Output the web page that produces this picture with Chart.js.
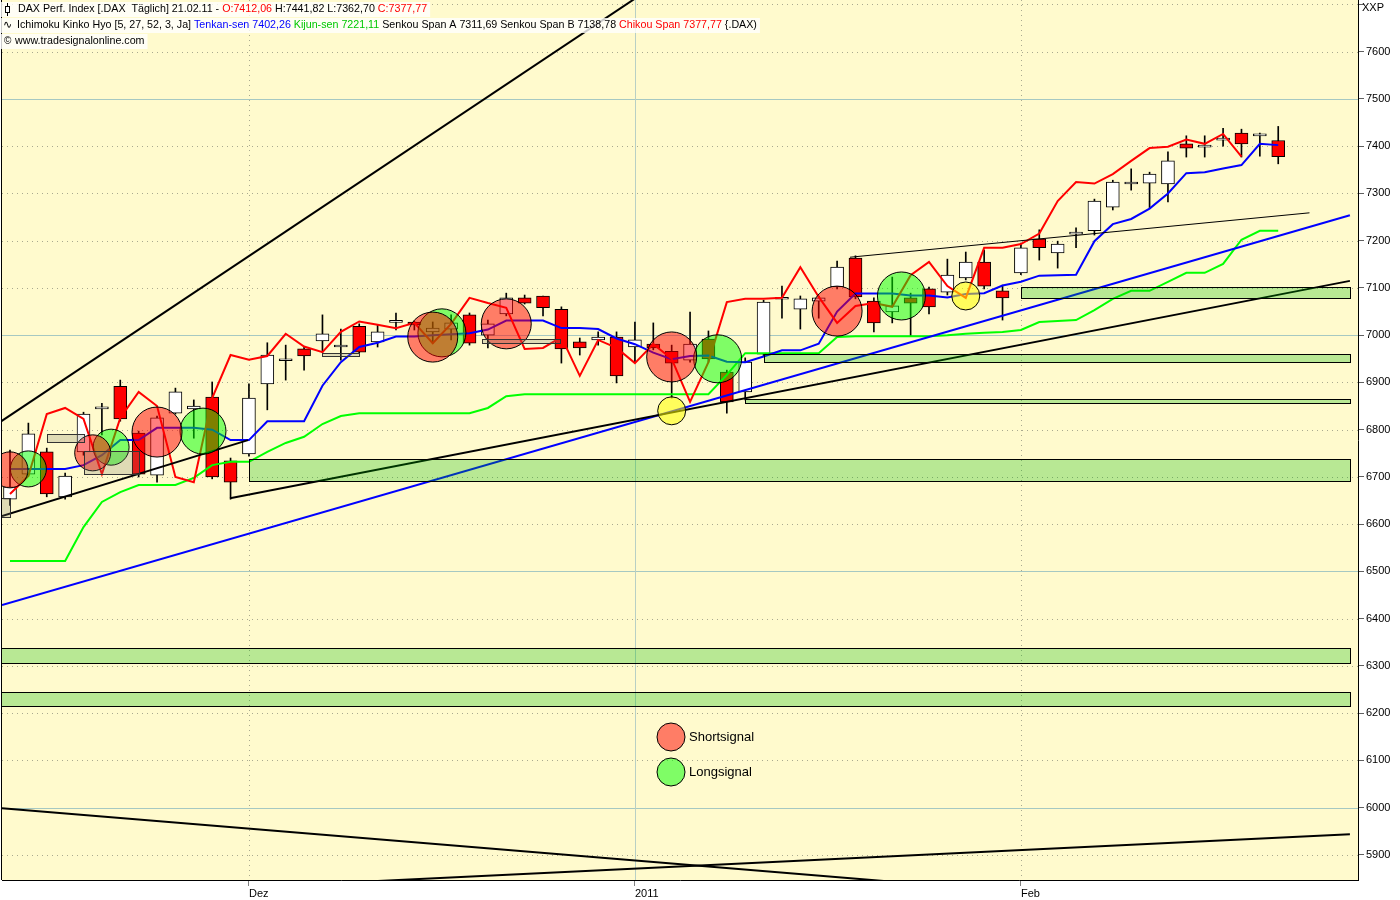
<!DOCTYPE html>
<html>
<head>
<meta charset="utf-8">
<title>DAX Perf. Index - Ichimoku</title>
<script src="https://cdn.jsdelivr.net/npm/chart.js@4.4.0/dist/chart.umd.min.js"></script>
<style>
  html, body { margin: 0; padding: 0; background: #fff; }
  canvas { display: block; }
</style>
</head>
<body>
<canvas id="chart" width="1400" height="900"></canvas>
<script>
// trading days, 12.11.2010 - 21.02.2011
const days = [
  '12.11.', '15.11.', '16.11.', '17.11.', '18.11.', '19.11.', '22.11.', '23.11.', '24.11.', '25.11.', '26.11.', '29.11.', '30.11.',
  '01.12.', '02.12.', '03.12.', '06.12.', '07.12.', '08.12.', '09.12.', '10.12.', '13.12.', '14.12.', '15.12.', '16.12.', '17.12.',
  '20.12.', '21.12.', '22.12.', '23.12.', '27.12.', '28.12.', '29.12.', '30.12.',
  '03.01.', '04.01.', '05.01.', '06.01.', '07.01.', '10.01.', '11.01.', '12.01.', '13.01.', '14.01.', '17.01.', '18.01.', '19.01.',
  '20.01.', '21.01.', '24.01.', '25.01.', '26.01.', '27.01.', '28.01.', '31.01.',
  '01.02.', '02.02.', '03.02.', '04.02.', '07.02.', '08.02.', '09.02.', '10.02.', '11.02.', '14.02.', '15.02.', '16.02.', '17.02.',
  '18.02.', '21.02.'
];
const monthIdx = [13, 34, 55];
const monthLabels = ['Dez', '2011', 'Feb'];

const open = [
  6653, 6706, 6753, 6658, 6753, 6844, 6892, 6793, 6704, 6835,
  6844, 6869, 6734, 6749, 6897, 6946, 6971, 6988, 6975, 7019,
  6986, 7027, 7028, 7007, 7013, 7043, 7000, 7045, 7079, 7083,
  7055, 6986, 6990, 6996, 6975, 6981, 6966, 6947, 6992, 6922,
  6880, 6960, 7076, 7055, 7072, 7102, 7163, 7072, 7049, 7079,
  7098, 7091, 7121, 7155, 7094, 7132, 7204, 7174, 7214, 7221,
  7271, 7320, 7322, 7320, 7405, 7398, 7413, 7428, 7422, 7412.06
];
const high = [
  6757, 6814, 6761, 6708, 6837, 6856, 6905, 6797, 6829, 6888,
  6863, 6901, 6740, 6897, 6984, 6979, 6975, 7043, 7013, 7024,
  7022, 7047, 7030, 7028, 7043, 7047, 7032, 7089, 7085, 7083,
  7060, 6994, 7007, 7007, 7028, 7026, 6979, 7049, 7009, 6926,
  6952, 7074, 7104, 7083, 7083, 7157, 7168, 7079, 7123, 7089,
  7102, 7161, 7176, 7180, 7106, 7195, 7223, 7199, 7227, 7288,
  7328, 7352, 7345, 7388, 7422, 7422, 7438, 7436, 7428, 7441.82
];
const low = [
  6640, 6702, 6658, 6653, 6746, 6789, 6818, 6700, 6689, 6833,
  6782, 6696, 6653, 6744, 6842, 6905, 6926, 6964, 6947, 6962,
  6975, 7011, 7011, 6983, 6990, 6979, 6973, 7041, 7066, 7041,
  6941, 6958, 6979, 6899, 6943, 6969, 6867, 6943, 6943, 6835,
  6863, 6956, 7036, 7013, 7036, 7098, 7077, 7007, 7026, 6998,
  7045, 7085, 7117, 7098, 7032, 7128, 7159, 7142, 7185, 7212,
  7265, 7307, 7269, 7282, 7377, 7377, 7400, 7377, 7379, 7362.70
];
const close = [
  6679, 6791, 6664, 6702, 6833, 6846, 6823, 6706, 6825, 6880,
  6850, 6700, 6689, 6867, 6958, 6948, 6956, 7003, 6976, 6964,
  7007, 7029, 7022, 7015, 7026, 6983, 7024, 7079, 7068, 7058,
  6971, 6973, 6996, 6914, 6990, 6973, 6941, 6981, 6950, 6859,
  6943, 7070, 7077, 7077, 7079, 7144, 7081, 7026, 7062, 7068,
  7060, 7127, 7155, 7104, 7079, 7185, 7185, 7193, 7215, 7284,
  7324, 7321, 7341, 7369, 7396, 7399, 7414, 7405, 7426, 7377.77
];

// Ichimoku lines
const tenkan = [
  6717, 6717, 6717, 6717, 6725, 6746, 6778, 6778, 6804, 6804,
  6804, 6800, 6778, 6778, 6818, 6818, 6818, 6893, 6943, 6975,
  6984, 6997, 6997, 7000, 7002, 7004, 7012, 7031, 7031, 7031,
  7015, 7015, 7013, 6993, 6981, 6963, 6949, 6956, 6957, 6944,
  6943, 6955, 6968, 6968, 6982, 7050, 7088, 7088, 7088, 7084,
  7084, 7080, 7087, 7089, 7105, 7113, 7126, 7127, 7128, 7199,
  7235, 7246, 7268, 7300, 7343, 7345, 7353, 7360, 7405, 7402.26
];
const kijun = [
  6522, 6522, 6522, 6522, 6594, 6647, 6668, 6683, 6683, 6683,
  6698, 6725, 6732, 6732, 6753, 6772, 6785, 6812, 6829, 6835,
  6835, 6835, 6835, 6835, 6835, 6835, 6846, 6871, 6875, 6875,
  6875, 6875, 6875, 6875, 6875, 6875, 6875, 6875, 6875, 6916,
  6962, 6962, 6962, 6962, 6962, 6996, 6998, 6998, 6998, 6998,
  6998, 7000, 7003, 7005, 7007, 7011, 7028, 7030, 7032, 7053,
  7077, 7094, 7094, 7113, 7132, 7132, 7151, 7202, 7221, 7221.11
];
const chikou = [
  6664, 6702, 6833, 6846, 6823, 6706, 6825, 6880, 6850, 6700,
  6689, 6867, 6958, 6948, 6956, 7003, 6976, 6964, 7007, 7029,
  7022, 7015, 7026, 6983, 7024, 7079, 7068, 7058, 6971, 6973,
  6996, 6914, 6990, 6973, 6941, 6981, 6950, 6859, 6943, 7070,
  7077, 7077, 7079, 7144, 7081, 7026, 7062, 7068, 7060, 7127,
  7155, 7104, 7079, 7185, 7185, 7193, 7215, 7284, 7324, 7321,
  7341, 7369, 7396, 7399, 7414, 7405, 7426, 7377.77
];

// signal markers (bar position, price, radius)
const shortX = [0, 4.5, 8, 23, 27, 36, 45];
const shortY = [6715, 6751, 6795, 6996, 7024, 6954, 7051];
const shortR = [18, 18, 25, 25, 25, 25, 25];
const longX = [1, 5.5, 10.5, 23.5, 38.5, 48.5];
const longY = [6717, 6763, 6797, 7005, 6950, 7083];
const longR = [18, 18, 23, 24, 24, 24];
const warnX = [36, 52];
const warnY = [6840, 7083];
const warnR = [14, 14];

// support / resistance zones
const zoneFrom = [13, 41, 40, 55, -1, -1];
const zoneTo = [72.9, 72.9, 72.9, 72.9, 72.9, 72.9];
const zoneLow = [6692, 6943, 6857, 7079, 6306, 6215];
const zoneHigh = [6737, 6960, 6866, 7102, 6337, 6244];

// grey boxes
const boxFrom = [2, 4, -1, 17, 25.7];
const boxTo = [4, 7, 0, 19, 29.9];
const boxLow = [6774, 6706, 6615, 6956, 6984];
const boxHigh = [6791, 6755, 6655, 6962, 6992];

// trend lines [bar, price]
const fanTop = [[-0.544, 6816], [40, 7868]];
const fanLow = [[-0.435, 6617], [12.95, 6778]];
const baseLine = [[11.97, 6655], [72.9, 7115]];
const thinLine = [[45.7, 7165], [70.7, 7259]];
const blueLine = [[-0.435, 6429], [72.9, 7254]];
const bottomDown = [[-0.435, 5999], [50, 5837]];
const bottomUp = [[17.4, 5840], [72.9, 5944]];

const FONT = '"Liberation Sans", Arial, sans-serif';
const BG = '#fffacd';

const pts = arr => arr.map((v, i) => ({ x: i, y: v }));
const seg = arr => arr.map(p => ({ x: p[0], y: p[1] }));
const bubbles = (xs, ys, rs) => xs.map((x, i) => ({ x: x, y: ys[i], r: rs[i] }));

function trend(data, color, width) {
  return {
    type: 'line',
    data: seg(data),
    borderColor: color,
    borderWidth: width,
    pointRadius: 0,
    fill: false,
    order: 5,
  };
}

function noPad(s) {
  s.paddingTop = 0;
  s.paddingBottom = 0;
  s.paddingLeft = 0;
  s.paddingRight = 0;
}

const backgroundPlugin = {
  id: 'background',
  beforeDraw(chart) {
    const { ctx, chartArea: a } = chart;
    ctx.save();
    ctx.fillStyle = '#fff';
    ctx.fillRect(0, 0, chart.width, chart.height);
    ctx.fillStyle = BG;
    ctx.fillRect(a.left, a.top, a.right - a.left, a.bottom - a.top);
    ctx.restore();
  },
  beforeDatasetsDraw(chart) {
    const { ctx, chartArea: a, scales: { x, y } } = chart;
    ctx.save();
    ctx.lineWidth = 1;
    y.ticks.forEach(t => {
      const py = Math.round(y.getPixelForValue(t.value)) + 0.5;
      if (t.value % 500 === 0) {
        ctx.setLineDash([]);
        ctx.strokeStyle = '#a6c8c2';
      } else {
        ctx.setLineDash([1, 4]);
        ctx.strokeStyle = '#a9a98f';
      }
      ctx.beginPath();
      ctx.moveTo(a.left, py);
      ctx.lineTo(a.right, py);
      ctx.stroke();
    });
    x.ticks.forEach(t => {
      const px = Math.round(x.getPixelForValue(t.value)) + 0.5;
      if (t.value === 34) {
        ctx.setLineDash([]);
        ctx.strokeStyle = '#b8cfc4';
      } else {
        ctx.setLineDash([1, 4]);
        ctx.strokeStyle = '#a9a98f';
      }
      ctx.beginPath();
      ctx.moveTo(px, a.top);
      ctx.lineTo(px, a.bottom);
      ctx.stroke();
    });
    ctx.restore();
  },
  afterDatasetsDraw(chart) {
    const { ctx, chartArea: a, scales: { x, y } } = chart;
    ctx.save();
    ctx.beginPath();
    ctx.rect(a.left, a.top, a.right - a.left, a.bottom - a.top);
    ctx.clip();
    ctx.lineWidth = 1;
    const rect = (x0, x1, lo, hi, fill, stroke) => {
      const l = Math.round(x.getPixelForValue(x0)) + 0.5;
      const r = Math.round(x.getPixelForValue(x1)) + 0.5;
      const t = Math.round(y.getPixelForValue(hi)) + 0.5;
      const b = Math.round(y.getPixelForValue(lo)) + 0.5;
      ctx.fillStyle = fill;
      ctx.fillRect(l, t, r - l, b - t);
      ctx.strokeStyle = stroke;
      ctx.strokeRect(l, t, r - l, b - t);
    };
    zoneFrom.forEach((f, i) => rect(f, zoneTo[i], zoneLow[i], zoneHigh[i], 'rgba(0,185,0,0.28)', '#000'));
    boxFrom.forEach((f, i) => rect(f, boxTo[i], boxLow[i], boxHigh[i], 'rgba(128,128,110,0.25)', '#333'));
    ctx.restore();
  },
  afterDraw(chart) {
    const { ctx, chartArea: a } = chart;
    ctx.save();
    // left frame
    ctx.strokeStyle = '#000';
    ctx.lineWidth = 1;
    ctx.beginPath();
    ctx.moveTo(a.left - 0.5, a.top);
    ctx.lineTo(a.left - 0.5, a.bottom);
    ctx.stroke();

    // header
    ctx.font = '10.7px ' + FONT;
    ctx.textBaseline = 'middle';
    const rows = [
      { y: 9, x: 18, runs: [
        ['DAX Perf. Index [.DAX  T\u00e4glich] 21.02.11 - ', '#000'],
        ['O:7412,06', '#f00'],
        [' H:7441,82 L:7362,70 ', '#000'],
        ['C:7377,77', '#f00']] },
      { y: 25, x: 17, runs: [
        ['Ichimoku Kinko Hyo [5, 27, 52, 3, Ja] ', '#000'],
        ['Tenkan-sen 7402,26', '#00f'],
        [' ', '#000'],
        ['Kijun-sen 7221,11', '#00c800'],
        [' Senkou Span A 7311,69 Senkou Span B 7138,78 ', '#000'],
        ['Chikou Span 7377,77', '#f00'],
        [' {.DAX)', '#000']] },
      { y: 41, x: 15, runs: [['www.tradesignalonline.com', '#000']] },
    ];
    rows.forEach(row => {
      const w = row.runs.reduce((s, r) => s + ctx.measureText(r[0]).width, 0);
      ctx.fillStyle = 'rgba(255,255,255,0.8)';
      ctx.fillRect(0, row.y - 7, row.x + w + 3, 15);
      let px = row.x;
      row.runs.forEach(r => {
        ctx.fillStyle = r[1];
        ctx.fillText(r[0], px, row.y);
        px += ctx.measureText(r[0]).width;
      });
    });
    // row icons
    ctx.fillStyle = '#000';
    ctx.fillRect(7, 3, 1, 13);
    ctx.fillStyle = '#fff';
    ctx.fillRect(5.5, 6.5, 4, 6);
    ctx.strokeStyle = '#000';
    ctx.strokeRect(5.5, 6.5, 4, 6);
    ctx.fillStyle = '#000';
    ctx.font = '11px "DejaVu Sans", sans-serif';
    ctx.fillText('\u223f', 3, 25);
    ctx.font = '10px ' + FONT;
    ctx.fillText('\u00a9', 4, 41);

    // axis caption
    ctx.font = '11px ' + FONT;
    ctx.fillText('XXP', 1362, 8);

    // legend
    const legend = [
      ['Shortsignal', 'rgba(255,0,0,0.5)', 737],
      ['Longsignal', 'rgba(0,255,0,0.5)', 772],
    ];
    legend.forEach(([label, color, cy]) => {
      ctx.beginPath();
      ctx.arc(671, cy, 14, 0, Math.PI * 2);
      ctx.fillStyle = color;
      ctx.fill();
      ctx.strokeStyle = '#000';
      ctx.stroke();
      ctx.fillStyle = '#000';
      ctx.font = '13px ' + FONT;
      ctx.fillText(label, 689, cy);
    });
    ctx.restore();
  }
};

new Chart(document.getElementById('chart'), {
  type: 'bar',
  data: {
    datasets: [
      {
        type: 'bar',
        data: low.map((l, i) => ({ x: i, y: [l, high[i]] })),
        backgroundColor: '#000',
        borderWidth: 0,
        barThickness: 1,
        grouped: false,
        order: 10,
      },
      {
        type: 'bar',
        data: open.map((o, i) => ({ x: i, y: [o, close[i]] })),
        backgroundColor: open.map((o, i) => close[i] < o ? '#ff0000' : '#ffffff'),
        borderColor: '#000',
        borderWidth: 1,
        borderSkipped: false,
        barThickness: 13,
        minBarLength: 2,
        grouped: false,
        order: 9,
      },
      {
        type: 'line',
        data: pts(kijun),
        borderColor: '#00ff00',
        borderWidth: 2,
        pointRadius: 0,
        order: 8,
      },
      {
        type: 'line',
        data: pts(tenkan),
        borderColor: '#0000ff',
        borderWidth: 2,
        pointRadius: 0,
        order: 7,
      },
      {
        type: 'line',
        data: pts(chikou),
        borderColor: '#ff0000',
        borderWidth: 2,
        pointRadius: 0,
        order: 6,
      },
      trend(fanTop, '#000', 2),
      trend(fanLow, '#000', 2),
      trend(baseLine, '#000', 2),
      trend(thinLine, '#000', 1),
      trend(blueLine, '#0000ff', 2),
      trend(bottomDown, '#000', 2),
      trend(bottomUp, '#000', 2),
      {
        type: 'bubble',
        data: bubbles(shortX, shortY, shortR),
        backgroundColor: 'rgba(255,0,0,0.5)',
        borderColor: '#000',
        borderWidth: 1,
        order: 1,
      },
      {
        type: 'bubble',
        data: bubbles(longX, longY, longR),
        backgroundColor: 'rgba(0,255,0,0.5)',
        borderColor: '#000',
        borderWidth: 1,
        order: 1,
      },
      {
        type: 'bubble',
        data: bubbles(warnX, warnY, warnR),
        backgroundColor: 'rgba(255,255,0,0.55)',
        borderColor: '#000',
        borderWidth: 1,
        order: 1,
      },
    ],
  },
  options: {
    responsive: false,
    animation: false,
    events: [],
    layout: {
      autoPadding: false,
      padding: { left: 2, top: 0, right: 0, bottom: 0 }
    },
    plugins: {
      legend: { display: false },
      tooltip: { enabled: false }
    },
    scales: {
      x: {
        type: 'linear',
        min: -0.435,
        max: 73.34,
        offset: false,
        afterBuildTicks: s => { s.ticks = monthIdx.map(v => ({ value: v })); },
        afterFit: s => { s.height = 20; noPad(s); },
        grid: {
          drawOnChartArea: false,
          drawTicks: true,
          tickLength: 6,
          tickColor: '#808080',
          offset: false
        },
        border: { color: '#000' },
        ticks: {
          autoSkip: false,
          maxRotation: 0,
          align: 'start',
          padding: 1,
          color: '#000',
          font: { size: 11, family: FONT },
          callback: v => monthLabels[monthIdx.indexOf(v)]
        }
      },
      y: {
        type: 'linear',
        position: 'right',
        min: 5847,
        max: 7709.4,
        afterFit: s => { s.width = 42; noPad(s); },
        grid: {
          drawOnChartArea: false,
          drawTicks: true,
          tickLength: 6,
          tickColor: '#606060'
        },
        border: { color: '#000' },
        ticks: {
          stepSize: 100,
          includeBounds: false,
          padding: 2,
          color: '#000',
          font: { size: 11, family: FONT },
          callback: v => v > 7650 ? '' : String(v)
        }
      }
    }
  },
  plugins: [backgroundPlugin]
});
</script>
</body>
</html>
